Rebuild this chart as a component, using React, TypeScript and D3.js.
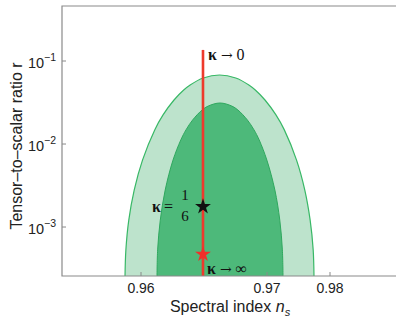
import * as d3 from "d3";

// axis ticks
const nsTicks = [0.96, 0.97, 0.98];
const rTicks = [1e-3, 1e-2, 1e-1];
const rLimits = [2.57e-4, 0.46];

// 95% CL contour (ns, r)
const outerContour: [number, number][] = [
  [0.95873, 2.5e-4],
  [0.9588, 5.3e-4],
  [0.95903, 1.21e-3],
  [0.95946, 2.79e-3],
  [0.96012, 6.4e-3],
  [0.96109, 0.0148],
  [0.96175, 0.0224],
  [0.96262, 0.0339],
  [0.96339, 0.0447],
  [0.9639, 0.0514],
  [0.96494, 0.0624],
  [0.96623, 0.0678],
  [0.96752, 0.0624],
  [0.96856, 0.0514],
  [0.96907, 0.0447],
  [0.96984, 0.0339],
  [0.97142, 0.0224],
  [0.97275, 0.0148],
  [0.97469, 6.4e-3],
  [0.976, 2.79e-3],
  [0.97685, 1.21e-3],
  [0.97733, 5.3e-4],
  [0.97746, 2.5e-4],
];

// 68% CL contour
const innerContour: [number, number][] = [
  [0.96127, 2.5e-4],
  [0.96132, 5.3e-4],
  [0.96153, 1.21e-3],
  [0.96192, 2.79e-3],
  [0.96254, 6.4e-3],
  [0.96316, 0.0112],
  [0.96357, 0.0148],
  [0.9641, 0.0195],
  [0.96485, 0.0257],
  [0.96534, 0.0287],
  [0.96627, 0.0312],
  [0.9672, 0.0287],
  [0.96769, 0.0257],
  [0.96844, 0.0195],
  [0.96897, 0.0148],
  [0.96938, 0.0112],
  [0.96999, 6.4e-3],
  [0.97125, 2.79e-3],
  [0.97203, 1.21e-3],
  [0.97244, 5.3e-4],
  [0.97254, 2.5e-4],
];

// prediction line and the two marked points
const kappaLine = { ns: 0.96492, rTop: 0.136 };
const stars = [
  { ns: 0.96492, r: 1.76e-3, color: "#111111" },
  { ns: 0.96492, r: 4.7e-4, color: "#f0302a" },
];

const sans = "'Liberation Sans', Arial, sans-serif";
const serif = "'Liberation Serif', 'DejaVu Serif', serif";
const arrowFont = "'DejaVu Serif', serif";

export default function App() {
  const width = 396;
  const height = 321;
  const left = 62;
  const top = 6;
  const bottom = 276;

  const x = d3.scaleLinear().domain(nsTicks).range([141, 267, 330]);
  const y = d3.scaleLog().domain(rLimits).range([bottom, top]);

  const line = d3
    .line<[number, number]>()
    .x((d) => x(d[0]))
    .y((d) => y(d[1]))
    .curve(d3.curveCatmullRom.alpha(0.5));

  const star = d3.symbol(d3.symbolStar, 78)();
  const lx = x(kappaLine.ns);

  return (
    <svg
      width={width}
      height={height}
      style={{ position: "absolute", left: 0, top: 0, background: "#fff" }}
    >
      <defs>
        <clipPath id="plot">
          <rect x={left} y={top} width={width} height={bottom - top} />
        </clipPath>
      </defs>

      <g clipPath="url(#plot)">
        <path
          d={line(outerContour) + "Z"}
          fill="#bde3cc"
          stroke="#38b866"
          strokeWidth={1.2}
        />
        <path
          d={line(innerContour) + "Z"}
          fill="#4db97a"
          stroke="#2fa85e"
          strokeWidth={1}
        />
        <line
          x1={lx}
          x2={lx}
          y1={y(kappaLine.rTop)}
          y2={bottom}
          stroke="#ee3a2c"
          strokeWidth={2.6}
        />
        {stars.map((s, i) => (
          <path
            key={i}
            d={star}
            transform={`translate(${x(s.ns)},${y(s.r)})`}
            fill={s.color}
          />
        ))}
      </g>

      {/* frame */}
      <path
        d={`M${width + 5},${top}H${left}V${bottom}H${width + 5}`}
        fill="none"
        stroke="#8a8a8a"
        strokeWidth={1.2}
      />

      {nsTicks.map((t) => (
        <g key={t}>
          <line
            x1={x(t)}
            x2={x(t)}
            y1={bottom}
            y2={bottom - 4}
            stroke="#8a8a8a"
          />
          <text
            x={x(t)}
            y={bottom + 17}
            textAnchor="middle"
            fontFamily={sans}
            fontSize={14}
            fill="#222"
          >
            {t.toFixed(2)}
          </text>
        </g>
      ))}

      {rTicks.map((t) => (
        <g key={t}>
          <line
            x1={left}
            x2={left + 4}
            y1={y(t)}
            y2={y(t)}
            stroke="#8a8a8a"
          />
          <text
            x={56}
            y={y(t) + 7}
            textAnchor="end"
            fontFamily={sans}
            fontSize={14.5}
            fill="#222"
          >
            10
            <tspan dy={-7} fontSize={10.5}>
              {"\u2212" + Math.round(-Math.log10(t))}
            </tspan>
          </text>
        </g>
      ))}

      {/* curve labels */}
      <text
        x={lx + 5}
        y={y(kappaLine.rTop) + 10}
        fontFamily={serif}
        fontSize={16}
        fill="#111"
      >
        <tspan fontWeight="bold">κ</tspan>
        <tspan fontFamily={arrowFont} fontSize={14} dx={4}>
          →
        </tspan>
        <tspan dx={4}>0</tspan>
      </text>
      <text
        x={lx + 4}
        y={bottom - 2}
        fontFamily={serif}
        fontSize={16}
        fill="#111"
      >
        <tspan fontWeight="bold">κ</tspan>
        <tspan fontFamily={arrowFont} fontSize={14} dx={4}>
          →
        </tspan>
        <tspan dx={4}>∞</tspan>
      </text>
      <g fontFamily={serif} fontSize={16} fill="#111">
        <text x={lx - 51} y={y(stars[0].r) + 5}>
          <tspan fontWeight="bold">κ</tspan>
          <tspan dx={3}>=</tspan>
        </text>
        <text x={lx - 18} y={y(stars[0].r) - 7} textAnchor="middle" fontSize={15}>
          1
        </text>
        <text x={lx - 18} y={y(stars[0].r) + 14} textAnchor="middle" fontSize={15}>
          6
        </text>
      </g>

      {/* axis titles */}
      <text
        x={230}
        y={312}
        textAnchor="middle"
        fontFamily={sans}
        fontSize={16}
        fill="#222"
      >
        Spectral index <tspan fontStyle="italic">n</tspan>
        <tspan fontStyle="italic" fontSize={11} dy={4}>
          s
        </tspan>
      </text>
      <text
        transform={`translate(22,146) rotate(-90)`}
        textAnchor="middle"
        fontFamily={sans}
        fontSize={16}
        fill="#222"
      >
        Tensor–to–scalar ratio r
      </text>
    </svg>
  );
}
